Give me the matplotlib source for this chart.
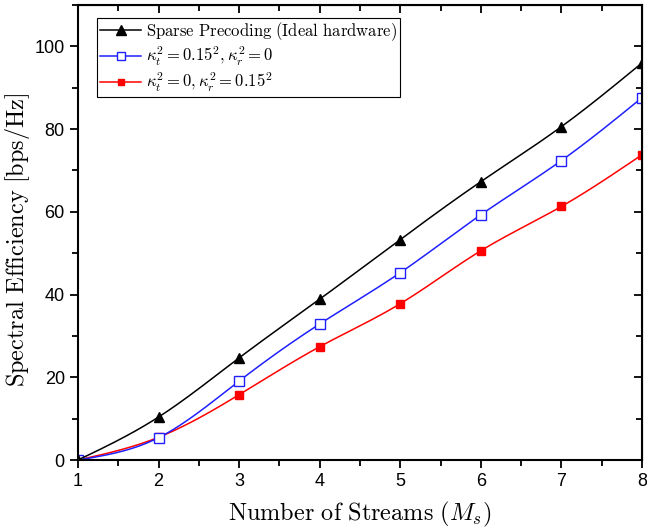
import numpy as np
import matplotlib.pyplot as plt
from matplotlib.ticker import MultipleLocator

streams = [1, 2, 3, 4, 5, 6, 7, 8]
ideal = [0.0, 10.4, 24.7, 38.9, 53.3, 67.3, 80.6, 96.0]
kappa_t = [0.0, 5.4, 19.1, 32.9, 45.3, 59.3, 72.4, 87.6]
kappa_r = [0.0, 5.5, 15.8, 27.4, 37.8, 50.6, 61.3, 73.8]

labels = ['$\\mathrm{Sparse\\ Precoding\\ (Ideal\\ hardware)}$',
          '$\\kappa_t^2=0.15^2,\\kappa_r^2=0$',
          '$\\kappa_t^2=0,\\kappa_r^2=0.15^2$']


def spline(x, y, n=200):
    # natural cubic spline, just for the smooth line between points
    x = np.asarray(x, float)
    y = np.asarray(y, float)
    h = np.diff(x)
    m = len(x)
    A = np.zeros((m, m))
    b = np.zeros(m)
    A[0, 0] = A[-1, -1] = 1
    for i in range(1, m - 1):
        A[i, i - 1] = h[i - 1]
        A[i, i] = 2 * (h[i - 1] + h[i])
        A[i, i + 1] = h[i]
        b[i] = 6 * ((y[i + 1] - y[i]) / h[i] - (y[i] - y[i - 1]) / h[i - 1])
    M = np.linalg.solve(A, b)
    xs = np.linspace(x[0], x[-1], n)
    k = np.clip(np.searchsorted(x, xs) - 1, 0, m - 2)
    t = xs - x[k]
    hk = h[k]
    ys = (M[k] * (x[k + 1] - xs) ** 3 / (6 * hk) + M[k + 1] * t ** 3 / (6 * hk)
          + (y[k] / hk - M[k] * hk / 6) * (x[k + 1] - xs)
          + (y[k + 1] / hk - M[k + 1] * hk / 6) * t)
    return xs, ys


plt.rcParams['mathtext.fontset'] = 'cm'
plt.rcParams['font.family'] = ['Liberation Sans', 'DejaVu Sans']

fig = plt.figure(figsize=(6.47, 5.32), dpi=100)
ax = fig.add_axes([0.1206, 0.1353, 0.8717, 0.8553])

styles = [dict(color='black', marker='^', ms=7.5, mfc='black'),
          dict(color='#2020ff', marker='s', ms=6.5, mfc='white'),
          dict(color='red', marker='s', ms=5.5, mfc='red')]
series = [ideal, kappa_t, kappa_r]

# legend entries in the original order
for lab, st in zip(labels, styles):
    ax.plot([], [], color=st['color'], lw=1.1, marker=st['marker'], ms=st['ms'] - 1,
            mfc=st['mfc'], mec=st['color'], label=lab)

# red first so the blue square at 2 sits on top of it
for i in [2, 1, 0]:
    st = styles[i]
    xs, ys = spline(streams, series[i])
    ax.plot(xs, ys, color=st['color'], lw=1.1)
    ax.plot(streams, series[i], linestyle='none', marker=st['marker'], ms=st['ms'],
            mfc=st['mfc'], mec=st['color'], mew=1.0)

ax.set_xlim(1, 8)
ax.set_ylim(0, 110)
ax.xaxis.set_major_locator(MultipleLocator(1))
ax.xaxis.set_minor_locator(MultipleLocator(0.5))
ax.yaxis.set_major_locator(MultipleLocator(20))
ax.yaxis.set_minor_locator(MultipleLocator(10))
ax.tick_params(which='both', direction='out', width=1.3, labelsize=13)
ax.tick_params(which='major', length=6)
ax.tick_params(which='minor', length=4)
for s in ax.spines.values():
    s.set_linewidth(1.5)

# inward ticks on the top and right spines
top = ax.secondary_xaxis('top')
top.xaxis.set_major_locator(MultipleLocator(1))
top.xaxis.set_minor_locator(MultipleLocator(0.5))
top.tick_params(which='both', direction='in', width=1.3, labeltop=False)
top.tick_params(which='major', length=6)
top.tick_params(which='minor', length=4)
right = ax.secondary_yaxis('right')
right.yaxis.set_major_locator(MultipleLocator(20))
right.yaxis.set_minor_locator(MultipleLocator(10))
right.tick_params(which='both', direction='in', width=1.3, labelright=False)
right.tick_params(which='major', length=6)
right.tick_params(which='minor', length=4)

ax.set_xlabel('$\\mathrm{Number\\ of\\ Streams}\\ (M_s)$', fontsize=17.5, labelpad=7)
ax.set_ylabel('$\\mathrm{Spectral\\ Efficiency\\ [bps/Hz]}$', fontsize=17.5)
ax.yaxis.set_label_coords(-0.082, 0.484)

leg = ax.legend(loc='upper left', bbox_to_anchor=(0.034, 0.972), fontsize=12,
                fancybox=False, edgecolor='black', framealpha=1,
                handlelength=2.5, handletextpad=0.3, borderpad=0.15,
                labelspacing=0.15, borderaxespad=0)
leg.get_frame().set_linewidth(0.8)

fig.savefig('out.png', dpi=100)
